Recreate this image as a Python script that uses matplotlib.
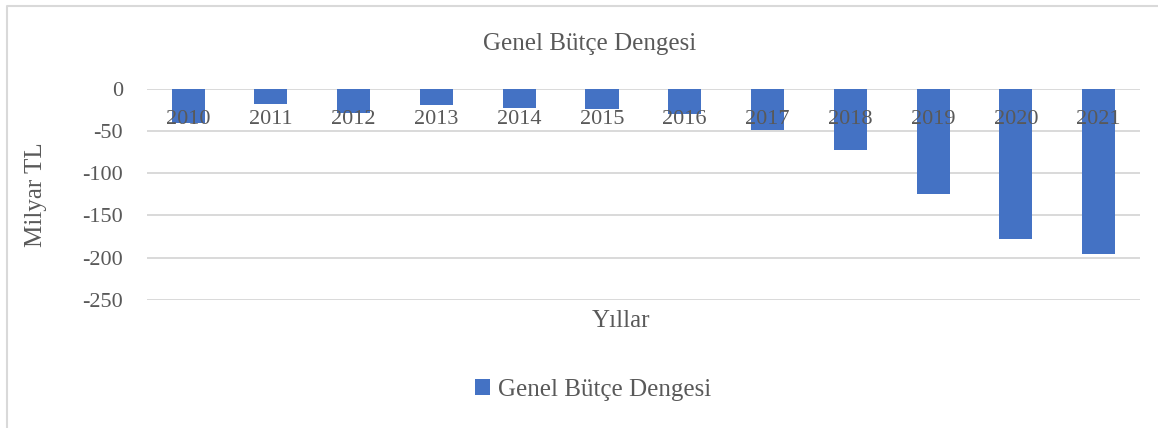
import matplotlib
matplotlib.use("Agg")
import matplotlib.pyplot as plt
from matplotlib.lines import Line2D

years = ["2010", "2011", "2012", "2013", "2014", "2015",
         "2016", "2017", "2018", "2019", "2020", "2021"]
balance = [-40, -18, -29, -19, -23, -24, -30, -49, -72, -124, -178, -196]
yticks = [0, -50, -100, -150, -200, -250]

title = "Genel Bütçe Dengesi"
ylabel = "Milyar TL"
xlabel = "Yıllar"
series_name = "Genel Bütçe Dengesi"

bar_color = "#4472C4"
text_color = "#595959"
grid_color = "#D9D9D9"

plt.rcParams['font.family'] = ['Liberation Serif', 'DejaVu Serif']

W, H = 1158, 428
fig = plt.figure(figsize=(W / 100, H / 100), dpi=100)
fig.patch.set_facecolor("white")

# chart frame (top and left edges visible)
fig.add_artist(Line2D([7 / W, 7 / W, 1.0], [0.0, 1 - 6 / H, 1 - 6 / H],
                      transform=fig.transFigure, color="#D9D9D9",
                      linewidth=1.5))

left, right = 146.7 / W, 1140 / W
top, bottom = 1 - 88.7 / H, 1 - 300 / H
ax = fig.add_axes([left, bottom, right - left, top - bottom])

x = list(range(len(years)))
ax.bar(x, balance, width=0.4, color=bar_color, zorder=1, label=series_name)

for t in yticks:
    ax.axhline(t, color=grid_color, linewidth=1.4, zorder=0.5)

ax.set_xlim(-0.5, len(years) - 0.5)
ax.set_ylim(min(yticks), max(yticks))
ax.set_yticks(yticks)
ax.set_yticklabels([str(t) for t in yticks])
ax.set_xticks(x)
ax.set_xticklabels(years)

ax.spines['bottom'].set_position(('data', 0))
for s in ax.spines.values():
    s.set_visible(False)
ax.tick_params(axis='both', length=0, colors=text_color, labelsize=16)
ax.tick_params(axis='x', pad=15)
ax.tick_params(axis='y', pad=17)
ax.set_facecolor("none")

fig.text(590 / W, 1 - 44 / H, title, ha='center', va='center',
         fontsize=18, color=text_color)
fig.text(36 / W, 1 - 195 / H, ylabel, ha='center', va='center',
         rotation=90, fontsize=18, color=text_color)
fig.text(621 / W, 1 - 321 / H, xlabel, ha='center', va='center',
         fontsize=18, color=text_color)

leg = fig.legend(loc='center', bbox_to_anchor=(593 / W, 1 - 390 / H),
                 frameon=False, fontsize=18, handlelength=0.6,
                 handleheight=0.6, handletextpad=0.35, labelcolor=text_color,
                 borderpad=0.2)

fig.savefig("out.png", dpi=100, facecolor="white")
